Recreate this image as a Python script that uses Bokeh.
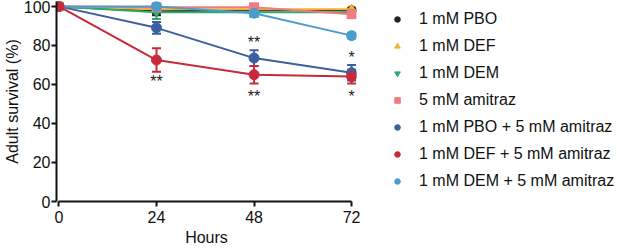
from bokeh.plotting import figure
from bokeh.layouts import row
from bokeh.models import Range1d, FixedTicker, Legend, LegendItem, Whisker, TeeHead, ColumnDataSource
from bokeh.core.properties import value
from bokeh.embed import file_html
from bokeh.resources import INLINE

hours = [0, 24, 48, 72]
series_names = ["1 mM PBO", "1 mM DEF", "1 mM DEM", "5 mM amitraz",
                "1 mM PBO + 5 mM amitraz", "1 mM DEF + 5 mM amitraz", "1 mM DEM + 5 mM amitraz"]
pbo = [100, 97.5, 98, 98]
pbo_err = [0, 2, 1.5, 1]
def_ = [100, 98.5, 98.5, 98.5]
def_err = [0, 1, 1, 1]
dem = [100, 97, 97, 97]
dem_err = [0, 3.5, 2.5, 1]
amitraz = [100, 99.5, 99.5, 96]
amitraz_err = [0, 1, 1.5, 2]
pbo_am = [100, 89, 73.5, 66]
pbo_am_err = [0, 3, 4, 4]
def_am = [100, 72.5, 65, 64]
def_am_err = [0, 6, 4.5, 3.5]
dem_am = [100, 100, 96.5, 85]
dem_am_err = [0, 1, 2, 1.5]

ann_x = [24, 48, 48, 72, 72]
ann_y = [61.5, 81.5, 54, 74, 54]
ann_text = ["**", "**", "**", "*", "*"]

y_ticks = [0, 20, 40, 60, 80, 100]

FONT = "Liberation Sans"
FS = "16px"

p = figure(width=361, height=248, output_backend="svg", toolbar_location=None,
           x_range=Range1d(-0.6, 73.2), y_range=Range1d(0, 102.5),
           min_border_left=56, min_border_right=5, min_border_top=1, min_border_bottom=47)
p.outline_line_color = None
p.grid.visible = False
p.background_fill_color = None
p.border_fill_color = "white"

for ax in (p.xaxis[0], p.yaxis[0]):
    ax.axis_line_width = 2
    ax.axis_line_color = "#111111"
    ax.major_tick_line_width = 2
    ax.major_tick_line_color = "#111111"
    ax.major_tick_out = 5
    ax.major_tick_in = 0
    ax.minor_tick_line_color = None
    ax.major_label_text_font = FONT
    ax.major_label_text_font_size = FS
    ax.major_label_text_color = "#111111"
    ax.axis_label_text_font = FONT
    ax.axis_label_text_font_size = FS
    ax.axis_label_text_font_style = "normal"
    ax.axis_label_text_color = "#111111"

p.xaxis.ticker = FixedTicker(ticks=hours)
p.yaxis.ticker = FixedTicker(ticks=y_ticks)
p.xaxis.bounds = (0, 72)
p.xaxis.axis_label = "Hours"
p.yaxis.axis_label = "Adult survival (%)"
p.xaxis.major_label_standoff = 4
p.xaxis.axis_label_standoff = 3
p.yaxis.major_label_standoff = 1
p.yaxis.axis_label_standoff = 0

specs = [
    (pbo, pbo_err, "#222222", "circle", 9),
    (def_, def_err, "#F2B233", "triangle", 9),
    (dem, dem_err, "#2DAA6E", "inverted_triangle", 9),
    (amitraz, amitraz_err, "#F07C80", "square", 9),
    (pbo_am, pbo_am_err, "#3D5F9E", "circle", 10),
    (dem_am, dem_am_err, "#4C9DCB", "circle", 10),
    (def_am, def_am_err, "#C72A3A", "circle", 10),
]
legend_order = [0, 1, 2, 3, 4, 6, 5]

for vals, err, color, marker, size in specs:
    src = ColumnDataSource(dict(x=hours, y=vals,
                                upper=[v + e for v, e in zip(vals, err)],
                                lower=[v - e for v, e in zip(vals, err)]))
    p.line("x", "y", source=src, line_color=color, line_width=2)
    w = Whisker(source=src, base="x", upper="upper", lower="lower",
                line_color=color, line_width=2,
                upper_head=TeeHead(size=9, line_color=color, line_width=2),
                lower_head=TeeHead(size=9, line_color=color, line_width=2))
    p.add_layout(w)
    p.scatter("x", "y", source=src, marker=marker, size=size,
              fill_color=color, line_color=color)

p.text(ann_x, ann_y, text=ann_text, text_font=value(FONT), text_font_size=FS,
       text_align="center", text_baseline="middle", text_color="#222222")

# legend panel
q = figure(width=256, height=248, output_backend="svg", toolbar_location=None,
           x_range=Range1d(0, 1), y_range=Range1d(0, 1),
           x_axis_type=None, y_axis_type=None,
           min_border_left=0, min_border_right=0, min_border_top=0, min_border_bottom=0)
q.outline_line_color = None
q.grid.visible = False
q.background_fill_color = None
q.border_fill_color = "white"

items = []
for i, j in enumerate(legend_order):
    vals, err, color, marker, size = specs[j]
    r = q.scatter(x=[-10], y=[-10], marker=marker, size=7,
                  fill_color=color, line_color=color)
    items.append(LegendItem(label=series_names[i], renderers=[r]))

legend = Legend(items=items, location=(29, 10.5), orientation="vertical",
                glyph_width=14, glyph_height=20, label_height=20, spacing=7,
                label_standoff=15, margin=0, padding=0,
                label_text_font=FONT, label_text_font_size=FS,
                label_text_color="#111111",
                border_line_color=None, background_fill_alpha=0)
q.add_layout(legend)

layout = row(p, q)
open("out.html", "w").write(file_html(layout, INLINE))
